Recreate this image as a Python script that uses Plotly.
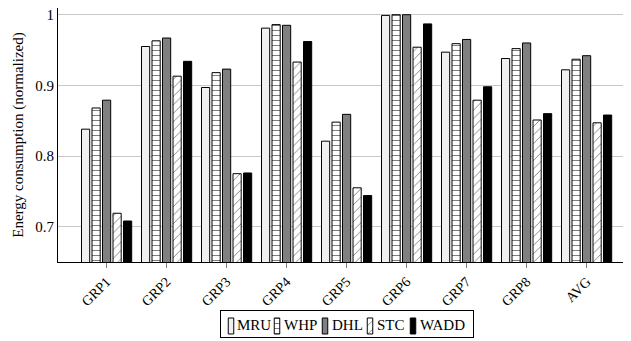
import plotly.graph_objects as go

categories = ["GRP1", "GRP2", "GRP3", "GRP4", "GRP5", "GRP6", "GRP7", "GRP8", "AVG"]
mru = [0.838, 0.955, 0.897, 0.981, 0.821, 0.999, 0.947, 0.938, 0.922]
whp = [0.868, 0.963, 0.918, 0.986, 0.848, 1.000, 0.959, 0.952, 0.937]
dhl = [0.879, 0.967, 0.923, 0.985, 0.859, 1.000, 0.965, 0.960, 0.942]
stc = [0.719, 0.913, 0.775, 0.933, 0.755, 0.954, 0.879, 0.851, 0.847]
wadd = [0.708, 0.934, 0.776, 0.962, 0.744, 0.987, 0.898, 0.860, 0.858]
series_names = ["MRU", "WHP", "DHL", "STC", "WADD"]
y_ticks = [0.7, 0.8, 0.9, 1.0]
y_ticktext = ["0.7", "0.8", "0.9", "1"]

FONT = "Liberation Serif, Times New Roman, serif"

styles = [
    ("#f0f0f0", dict(shape="")),
    ("white", dict(shape="-", fgcolor="black", bgcolor="white", size=5, solidity=0.2)),
    ("#808080", dict(shape="")),
    ("white", dict(shape="/", fgcolor="black", bgcolor="white", size=6, solidity=0.15)),
    ("black", dict(shape="")),
]
values = [mru, whp, dhl, stc, wadd]

# legend layout (pixel units inside the legend box)
leg_swatch_x = [10, 56, 104, 149, 192]
leg_text_x = [13.5, 60.5, 108.5, 153.5, 196.5]

fig = go.Figure()
x_idx = list(range(len(categories)))
for name, vals, (color, pat) in zip(series_names, values, styles):
    fig.add_trace(go.Bar(
        name=name, x=x_idx, y=vals, showlegend=False,
        marker=dict(color=color, line=dict(color="black", width=1), pattern=pat),
    ))

# custom compact legend drawn in an inset axis
for name, sx, tx, (color, pat) in zip(series_names, leg_swatch_x, leg_text_x, styles):
    fig.add_trace(go.Bar(
        x=[sx], y=[16], base=[3], width=[5.5], xaxis="x2", yaxis="y2",
        showlegend=False, hoverinfo="skip",
        marker=dict(color=color, line=dict(color="black", width=1), pattern=pat),
    ))
    fig.add_annotation(
        x=tx, y=11.5, xref="x2", yref="y2", text=name, showarrow=False,
        xanchor="left", yanchor="middle", font=dict(family=FONT, size=15, color="black"),
    )

fig.update_layout(
    width=623, height=333,
    margin=dict(l=50, r=0, t=0, b=3, autoexpand=False),
    paper_bgcolor="white", plot_bgcolor="white",
    barmode="group", bargap=0.125, bargroupgap=0.22,
    font=dict(family=FONT, size=14, color="black"),
    showlegend=False,
    xaxis=dict(
        range=[-0.81, 8.74], tickvals=x_idx, ticktext=categories, anchor="y",
        tickangle=-45, showline=True, linecolor="black", linewidth=1, mirror=True,
        ticks="outside", ticklen=5, tickcolor="gray", showgrid=False, zeroline=False,
        tickfont=dict(family=FONT, size=14), automargin=False,
    ),
    yaxis=dict(
        domain=[0.2303, 1], range=[0.65, 1.0095], tickvals=y_ticks, ticktext=y_ticktext,
        showline=True, linecolor="black", linewidth=1, mirror=False,
        showgrid=True, gridcolor="#c8c8c8", gridwidth=1, ticks="", zeroline=False,
        tickfont=dict(family=FONT, size=15), automargin=False, ticklabeloverflow="allow",
        title=dict(text="Energy consumption (normalized)", font=dict(family=FONT, size=15), standoff=7),
    ),
    xaxis2=dict(
        domain=[0.28447, 0.72426], range=[0, 252], anchor="y2",
        showline=True, mirror=True, linecolor="black", linewidth=1,
        showticklabels=False, showgrid=False, zeroline=False, ticks="", fixedrange=True,
    ),
    yaxis2=dict(
        domain=[0.00303, 0.08182], range=[0, 26], anchor="x2",
        showline=True, mirror=True, linecolor="black", linewidth=1,
        showticklabels=False, showgrid=False, zeroline=False, ticks="", fixedrange=True,
    ),
)

fig.write_html("out.html")
